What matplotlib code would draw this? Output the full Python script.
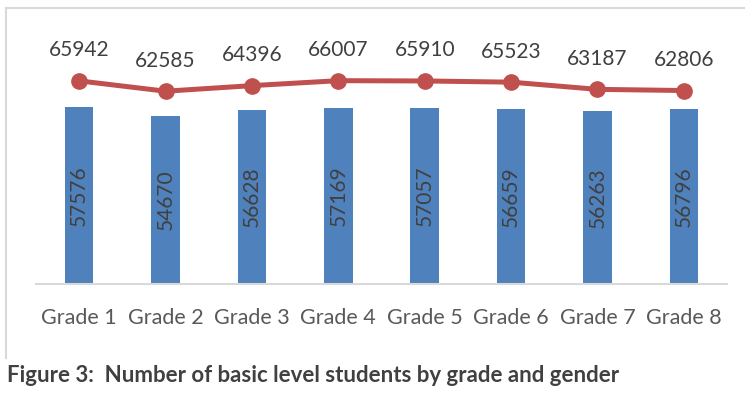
import matplotlib
matplotlib.use("Agg")
import matplotlib.pyplot as plt
from matplotlib.lines import Line2D

categories = ["Grade 1", "Grade 2", "Grade 3", "Grade 4", "Grade 5", "Grade 6", "Grade 7", "Grade 8"]
bar_values = [57576, 54670, 56628, 57169, 57057, 56659, 56263, 56796]
line_values = [65942, 62585, 64396, 66007, 65910, 65523, 63187, 62806]
caption = "Figure 3:  Number of basic level students by grade and gender"

plt.rcParams['font.family'] = ['Lato', 'DejaVu Sans']

W, H = 745, 399
fig = plt.figure(figsize=(W / 100, H / 100), dpi=100)
fig.patch.set_facecolor('white')

ax_left, ax_right = 36 / W, 727 / W
ax_bottom, ax_top = (H - 284) / H, (H - 20) / H
ax = fig.add_axes([ax_left, ax_bottom, ax_right - ax_left, ax_top - ax_bottom])

x = list(range(len(categories)))
ax.bar(x, bar_values, width=0.33, color='#4F81BD', zorder=2)
ax.plot(x, line_values, color='#C0504D', lw=3.6, marker='o', ms=11,
        solid_capstyle='round', zorder=3)

for xi, v in zip(x, bar_values):
    ax.text(xi, v / 2, str(v), rotation=90, ha='center', va='center',
            fontsize=15, color='#404040', zorder=4)
for xi, v in zip(x, line_values):
    ax.annotate(str(v), (xi, v), xytext=(0, 22), textcoords='offset points',
                ha='center', va='center', fontsize=15, color='#404040')

ax.set_xlim(-0.5, len(categories) - 0.5)
ax.set_ylim(0, 85700)
ax.set_xticks(x)
ax.set_xticklabels(categories, fontsize=15.5, color='#595959')
ax.tick_params(axis='x', length=0, pad=17)
ax.set_yticks([])
for s in ['top', 'right', 'left']:
    ax.spines[s].set_visible(False)
ax.spines['bottom'].set_color('#D9D9D9')
ax.spines['bottom'].set_linewidth(1.5)
ax.set_facecolor('none')

# chart frame (top and left edges visible)
fig.add_artist(Line2D([6 / W, 1.0], [(H - 8) / H, (H - 8) / H], color='#D9D9D9', lw=1.5))
fig.add_artist(Line2D([6 / W, 6 / W], [(H - 8) / H, (H - 358) / H], color='#D9D9D9', lw=1.5))

fig.text(7 / W, (H - 375) / H, caption, fontsize=16, fontweight='bold',
         color='#404040', ha='left', va='center')

fig.savefig("out.png", dpi=100)
